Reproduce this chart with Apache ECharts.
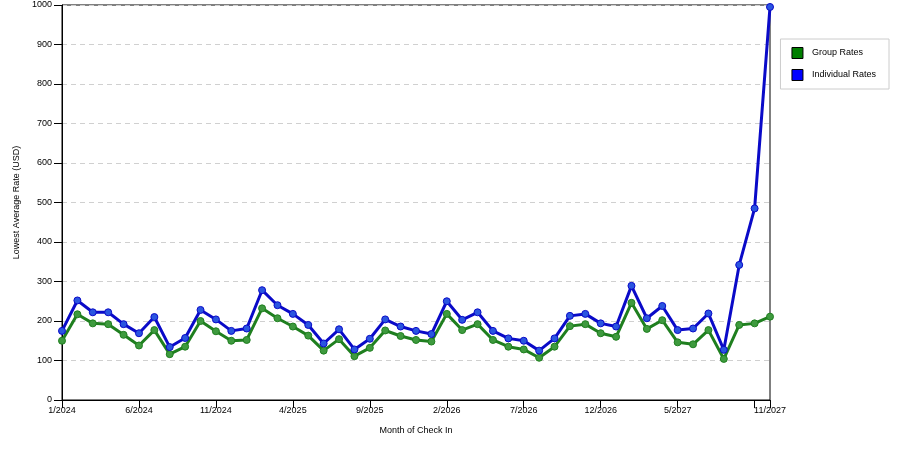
<!DOCTYPE html>
<html>
<head>
<meta charset="utf-8">
<script src="https://cdn.jsdelivr.net/npm/echarts@6/dist/echarts.min.js"></script>
<style>
  html, body { margin: 0; padding: 0; background: #fff; }
  #chart { width: 900px; height: 450px; }
</style>
</head>
<body>
<div id="chart"></div>
<script>
var months = [
  '1/2024', '2/2024', '3/2024', '4/2024', '5/2024', '6/2024', '7/2024', '8/2024', '9/2024', '10/2024', '11/2024', '12/2024',
  '1/2025', '2/2025', '3/2025', '4/2025', '5/2025', '6/2025', '7/2025', '8/2025', '9/2025', '10/2025', '11/2025', '12/2025',
  '1/2026', '2/2026', '3/2026', '4/2026', '5/2026', '6/2026', '7/2026', '8/2026', '9/2026', '10/2026', '11/2026', '12/2026',
  '1/2027', '2/2027', '3/2027', '4/2027', '5/2027', '6/2027', '7/2027', '8/2027', '9/2027', '10/2027', '11/2027'
];

var groupRates = [150, 217, 194, 192, 165, 138, 177, 116, 135, 200, 174, 150, 152, 232, 207, 186,
  163, 125, 154, 111, 132, 176, 162, 152, 148, 218, 177, 192, 152, 135, 128,
  107, 135, 187, 192, 169, 160, 246, 180, 202, 146, 141, 177, 104, 190, 194, 211];

var individualRates = [175, 252, 222, 222, 192, 169, 210, 134, 157, 228, 204, 175, 181, 278, 240, 218,
  190, 143, 179, 128, 155, 204, 186, 175, 167, 250, 203, 222, 175, 156, 150,
  125, 156, 213, 218, 194, 186, 289, 207, 238, 177, 181, 219, 127, 342, 485, 995];

var yTicks = [0, 100, 200, 300, 400, 500, 600, 700, 800, 900, 1000];

var lastIdx = months.length - 1;
var font = 'Liberation Sans, Arial, sans-serif';

var chart = echarts.init(document.getElementById('chart'));

function mkSeries(name, data, lineColor, dotColor) {
  return {
    name: name,
    type: 'line',
    data: data,
    symbol: 'circle',
    symbolSize: 7,
    lineStyle: { color: lineColor, width: 3 },
    itemStyle: { color: dotColor, borderColor: lineColor, borderWidth: 1 },
    animation: false
  };
}

chart.setOption({
  backgroundColor: '#fff',
  grid: {
    left: 62, right: 130, top: 5, bottom: 50,
    show: true, borderColor: '#000', borderWidth: 1
  },
  legend: {
    orient: 'vertical',
    right: 11, top: 39,
    padding: [8, 13, 8, 11],
    itemGap: 10,
    itemWidth: 11, itemHeight: 11,
    backgroundColor: '#fff',
    borderColor: '#ccc', borderWidth: 1,
    icon: 'rect',
    textStyle: { fontFamily: font, fontSize: 9, color: '#000', padding: [0, 0, 0, 4] },
    data: [
      { name: 'Group Rates', itemStyle: { color: '#007f00', borderColor: '#000', borderWidth: 1 } },
      { name: 'Individual Rates', itemStyle: { color: '#0000ff', borderColor: '#000', borderWidth: 1 } }
    ]
  },
  xAxis: {
    type: 'category',
    data: months,
    boundaryGap: false,
    name: 'Month of Check In',
    nameLocation: 'middle',
    nameGap: 26,
    nameTextStyle: { fontFamily: font, fontSize: 9, color: '#000' },
    axisLine: { lineStyle: { color: '#000' } },
    axisTick: {
      length: 8,
      lineStyle: { color: '#000' },
      interval: function (i) { return i % 5 === 0 || i === lastIdx; }
    },
    axisLabel: {
      fontFamily: font, fontSize: 9, color: '#000', margin: 6,
      interval: function (i) { return (i % 5 === 0 && i !== 45) || i === lastIdx; }
    },
    splitLine: { show: false }
  },
  yAxis: {
    type: 'value',
    min: yTicks[0], max: yTicks[yTicks.length - 1], interval: 100,
    name: 'Lowest Average Rate (USD)',
    nameLocation: 'middle',
    nameGap: 39,
    nameTextStyle: { fontFamily: font, fontSize: 9, color: '#000' },
    axisLine: { show: true, lineStyle: { color: '#000' } },
    axisTick: { show: true, length: 8, lineStyle: { color: '#000' } },
    axisLabel: {
      fontFamily: font, fontSize: 9, color: '#000', margin: 10,
      formatter: function (v) { return String(v); }
    },
    splitLine: { lineStyle: { color: '#d0d0d0', type: [5, 4] } }
  },
  series: [
    mkSeries('Group Rates', groupRates, '#1f7f1f', '#3e9a3e'),
    mkSeries('Individual Rates', individualRates, '#0a0ac8', '#2a55e0')
  ]
});
</script>
</body>
</html>
